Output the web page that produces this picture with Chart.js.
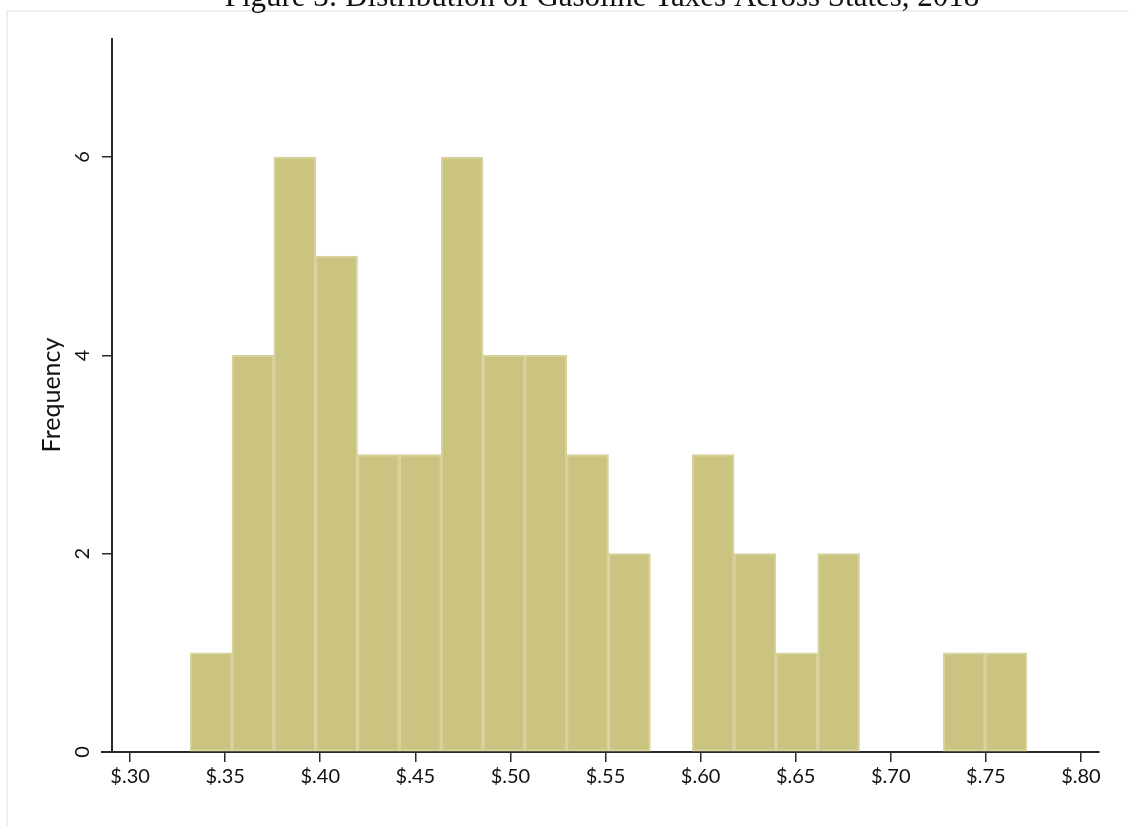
<!DOCTYPE html>
<html>
<head>
<meta charset="utf-8">
<script src="https://cdn.jsdelivr.net/npm/chart.js@4.4.1/dist/chart.umd.min.js"></script>
<style>
  html, body { margin: 0; padding: 0; background: #fff; }
  #wrap { width: 1129px; height: 826px; }
</style>
</head>
<body>
<div id="wrap"><canvas id="hist" width="1129" height="826"></canvas></div>
<script>
// histogram bins (gas tax, $ per gallon)
const binStart = 0.3316;
const binWidth = 0.022;
const counts = [1, 4, 6, 5, 3, 3, 6, 4, 4, 3, 2, 0, 3, 2, 1, 2, 0, 0, 1, 1];

const xTicks = [0.30, 0.35, 0.40, 0.45, 0.50, 0.55, 0.60, 0.65, 0.70, 0.75, 0.80];
const xTickLabels = ['$.30', '$.35', '$.40', '$.45', '$.50', '$.55', '$.60', '$.65', '$.70', '$.75', '$.80'];
const yTicks = [0, 2, 4, 6];

const titleText = 'Figure 3: Distribution of Gasoline Taxes Across States, 2018';
const yTitle = 'Frequency';

const points = counts.map((c, i) => ({ x: binStart + binWidth * (i + 0.5), y: c }));

const axisColor = '#2a2a2a';

// frame, cut-off title, rotated y labels
const extras = {
  id: 'extras',
  beforeDraw(chart) {
    const ctx = chart.ctx;
    ctx.save();
    ctx.strokeStyle = '#e4eded';
    ctx.lineWidth = 1.5;
    ctx.beginPath();
    ctx.moveTo(7, 826);
    ctx.lineTo(7, 11);
    ctx.lineTo(1129, 11);
    ctx.stroke();
    ctx.restore();
  },
  afterDraw(chart) {
    const ctx = chart.ctx;
    const y = chart.scales.y;
    const area = chart.chartArea;
    ctx.save();
    // title (mostly above the page edge)
    ctx.fillStyle = '#111';
    ctx.font = '31px "Liberation Serif"';
    ctx.textAlign = 'center';
    ctx.textBaseline = 'alphabetic';
    ctx.fillText(titleText, 602, 6);

    // x axis line runs a bit left of the y axis
    ctx.strokeStyle = axisColor;
    ctx.lineWidth = 2;
    ctx.beginPath();
    ctx.moveTo(101, area.bottom);
    ctx.lineTo(area.left, area.bottom);
    ctx.stroke();

    // y tick labels, rotated
    ctx.fillStyle = '#111';
    ctx.font = '20px Lato';
    ctx.textAlign = 'center';
    ctx.textBaseline = 'middle';
    yTicks.forEach(v => {
      ctx.save();
      ctx.translate(83, y.getPixelForValue(v));
      ctx.rotate(-Math.PI / 2);
      ctx.fillText(String(v), 0, 0);
      ctx.restore();
    });

    // y title
    ctx.font = '25px Lato';
    ctx.save();
    ctx.translate(52, 395);
    ctx.rotate(-Math.PI / 2);
    ctx.fillText(yTitle, 0, 0);
    ctx.restore();
    ctx.restore();
  }
};

new Chart(document.getElementById('hist'), {
  type: 'bar',
  data: {
    datasets: [{
      data: points,
      backgroundColor: '#cbc480',
      borderColor: '#d8d29c',
      borderWidth: 2,
      borderSkipped: false,
      barPercentage: 1,
      categoryPercentage: 1
    }]
  },
  options: {
    responsive: false,
    animation: false,
    layout: { padding: { top: 39, right: 30, left: 0, bottom: 0 } },
    plugins: { legend: { display: false }, tooltip: { enabled: false } },
    scales: {
      x: {
        type: 'linear',
        offset: false,
        min: 0.2905,
        max: 0.8095,
        afterBuildTicks: s => { s.ticks = xTicks.map(v => ({ value: v })); },
        afterFit: s => { s.height = 74; },
        ticks: {
          color: '#111',
          font: { family: 'Lato', size: 20 },
          padding: 3,
          maxRotation: 0,
          callback: (v, i) => xTickLabels[i]
        },
        grid: { display: true, offset: false, drawOnChartArea: false, drawTicks: true, tickLength: 10, color: axisColor, lineWidth: 1.5 },
        border: { display: true, color: axisColor, width: 2 }
      },
      y: {
        min: 0,
        max: 7.19,
        afterBuildTicks: s => { s.ticks = yTicks.map(v => ({ value: v })); },
        afterFit: s => { s.width = 112; },
        ticks: { display: false },
        grid: { display: true, drawOnChartArea: false, drawTicks: true, tickLength: 10, color: axisColor, lineWidth: 1.5 },
        border: { display: true, color: axisColor, width: 2 }
      }
    }
  },
  plugins: [extras]
});
</script>
</body>
</html>
